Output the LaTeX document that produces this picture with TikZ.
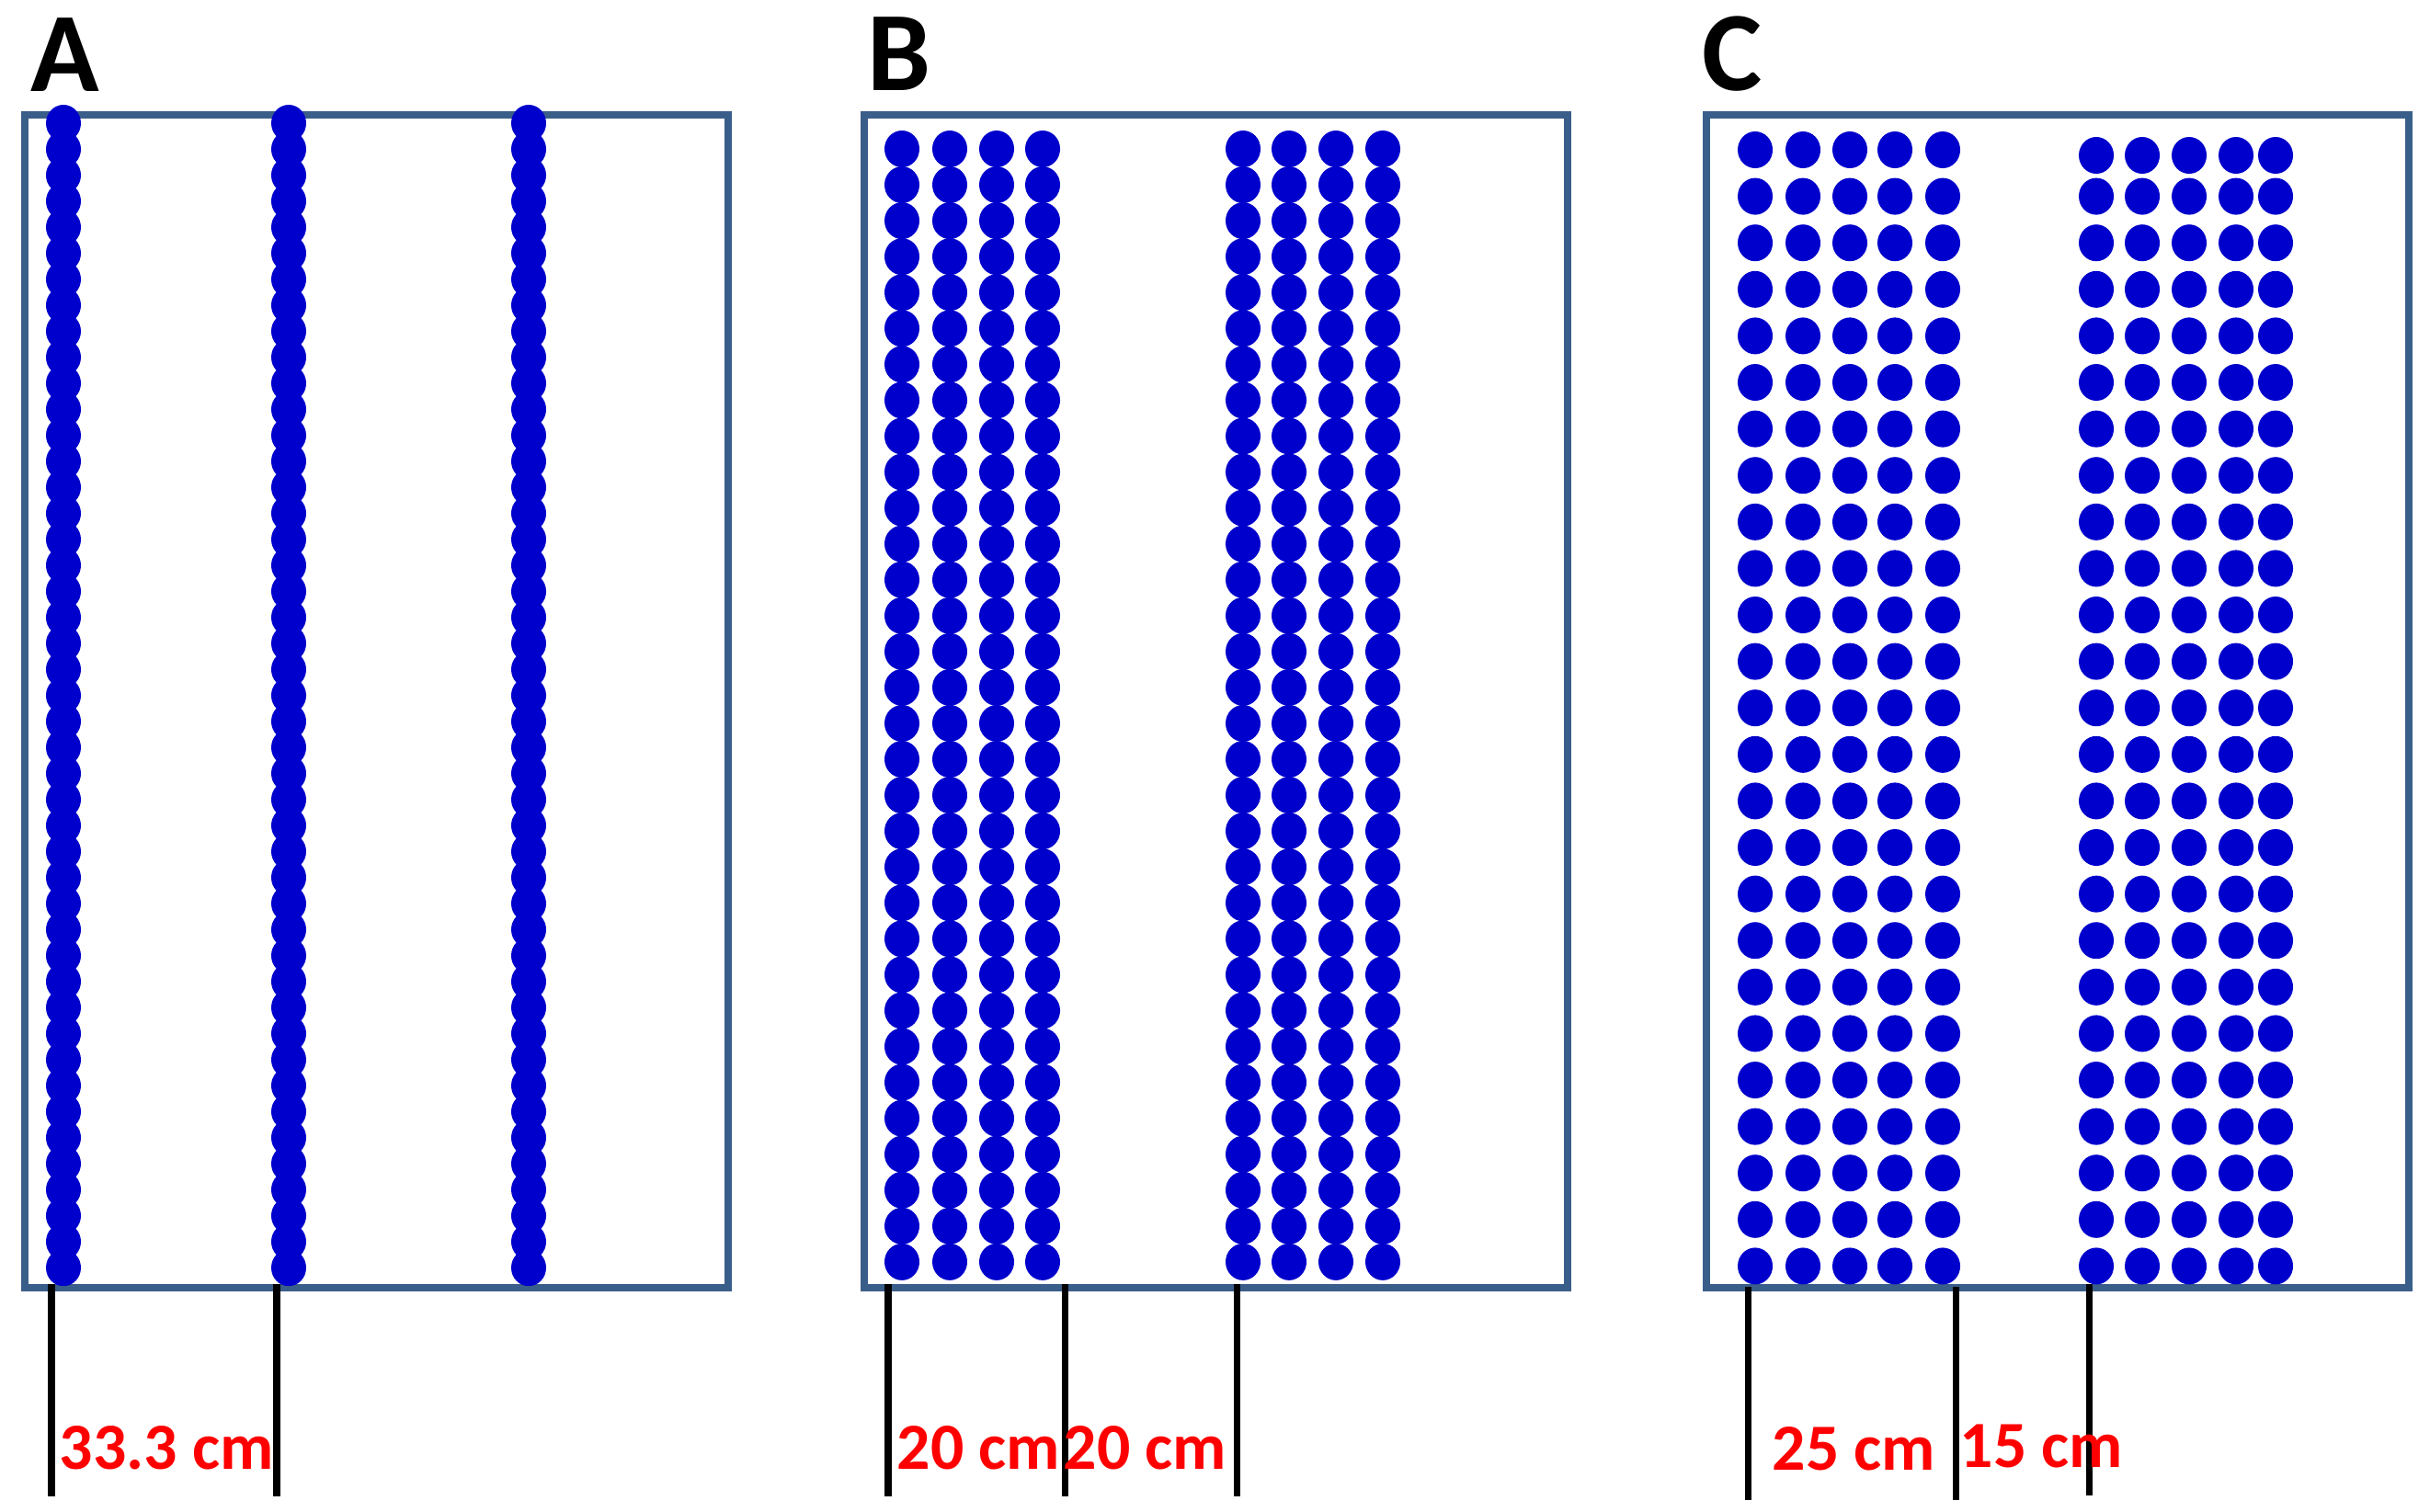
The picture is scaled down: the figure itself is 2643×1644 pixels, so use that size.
\documentclass[tikz,border=0pt]{standalone}
\usepackage{fontspec}
\setmainfont{Carlito}
\definecolor{boxc}{RGB}{58,94,138}
\definecolor{dotc}{RGB}{0,0,204}
\definecolor{labc}{RGB}{255,0,0}
\tikzset{
  panelbox/.style={draw=boxc, line width=2.4pt},
  seed/.style={fill=dotc},
  dimline/.style={draw=black, line width=2pt},
  dimlabel/.style={text=labc, font=\bfseries\fontsize{20.4}{21}\selectfont, inner sep=0pt, anchor=base west},
  panellabel/.style={text=black, font=\bfseries\fontsize{35}{36}\selectfont, inner sep=0pt, anchor=base west}
}
\begin{document}
\begin{tikzpicture}[x=0.01cm, y=-0.01cm]
\useasboundingbox (0,0) rectangle (2643,1644);
% panel labels
\node[panellabel] (labA) at (33,99) {A};
\node[panellabel] (labB) at (943,98) {B};
\node[panellabel] (labC) at (1851,98) {C};
% boxes
\draw[panelbox] (27,125) rectangle (792,1401);
\draw[panelbox] (940,125) rectangle (1705,1401);
\draw[panelbox] (1856,125) rectangle (2620,1401);
% panel A dots
\foreach \cx in {69,314,575}{
  \foreach \i in {0,...,44}{
    \fill[seed] (\cx,134+\i*28.3) ellipse [x radius=0.19cm, y radius=0.2cm];
  }
}
% panel B dots
\foreach \cx in {981,1033,1084,1134,1352,1402,1453,1504}{
  \foreach \i in {0,...,31}{
    \fill[seed] (\cx,162+\i*39.06) ellipse [x radius=0.19cm, y radius=0.2cm];
  }
}
% panel C dots
\foreach \cx in {1909,1961,2012,2061,2113}{
  \foreach \i in {0,...,24}{
    \fill[seed] (\cx,163+\i*50.6) ellipse [x radius=0.19cm, y radius=0.2cm];
  }
}
\foreach \cx in {2280,2330,2381,2432,2475}{
  \fill[seed] (\cx,169) ellipse [x radius=0.19cm, y radius=0.2cm];
  \foreach \i in {1,...,24}{
    \fill[seed] (\cx,163+\i*50.6) ellipse [x radius=0.19cm, y radius=0.2cm];
  }
}
% dimension lines
\coordinate (a1t) at (56,1397);  \coordinate (a1b) at (56,1628);
\coordinate (a2t) at (301,1397); \coordinate (a2b) at (301,1628);
\coordinate (b1t) at (966,1397); \coordinate (b1b) at (966,1628);
\coordinate (b2t) at (1158,1397);\coordinate (b2b) at (1158,1628);
\coordinate (b3t) at (1345,1397);\coordinate (b3b) at (1345,1628);
\coordinate (c1t) at (1901,1400);\coordinate (c1b) at (1901,1632);
\coordinate (c2t) at (2127,1400);\coordinate (c2b) at (2127,1632);
\coordinate (c3t) at (2272,1397);\coordinate (c3b) at (2272,1627);
\draw[dimline] (a1t) -- (a1b);
\draw[dimline] (a2t) -- (a2b);
\draw[dimline] (b1t) -- (b1b);
\draw[dimline] (b2t) -- (b2b);
\draw[dimline] (b3t) -- (b3b);
\draw[dimline] (c1t) -- (c1b);
\draw[dimline] (c2t) -- (c2b);
\draw[dimline] (c3t) -- (c3b);
% labels
\node[dimlabel] (dA) at (64,1598) {33.3 cm};
\node[dimlabel] (dB1) at (975,1598) {20 cm};
\node[dimlabel] (dB2) at (1156,1598) {20 cm};
\node[dimlabel] (dC1) at (1927,1599) {25 cm};
\node[dimlabel] (dC2) at (2131,1596) {15 cm};
\end{tikzpicture}
\end{document}
